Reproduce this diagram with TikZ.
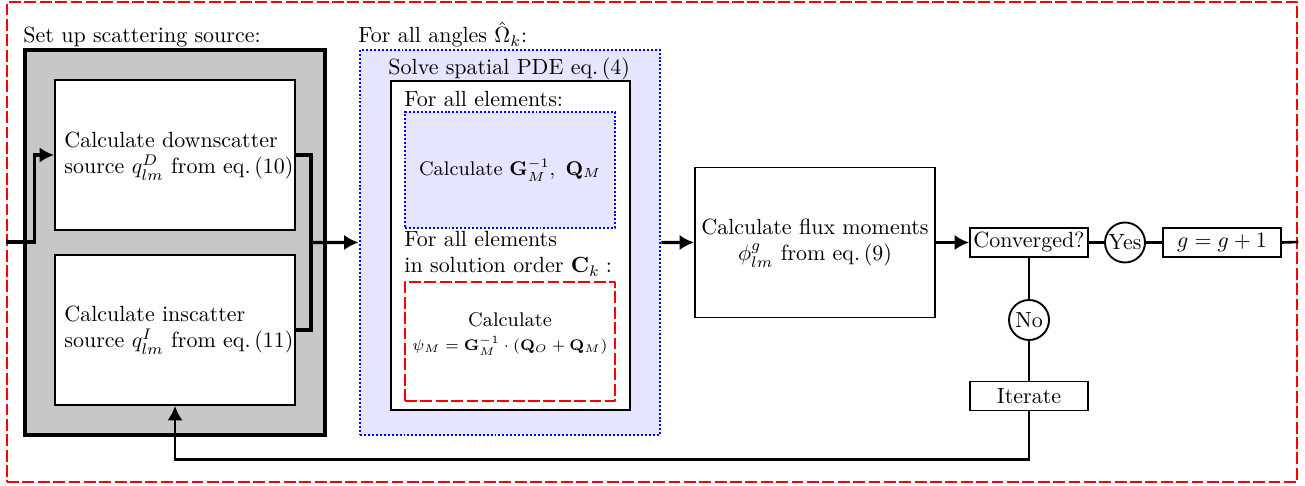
\documentclass[tikz,border=0pt]{standalone}
\usetikzlibrary{fit,arrows.meta}
\begin{document}
\begin{tikzpicture}[x=0.455pt,y=-0.455pt,
  box/.style={draw, line width=0.85pt, fill=white, inner sep=0pt},
  smallbox/.style={draw, line width=0.85pt, fill=white, minimum width=53.7pt, minimum height=13.2pt, inner sep=0.4pt},
  circ/.style={draw, circle, line width=0.85pt, fill=white, minimum size=18.2pt, inner sep=0.2pt},
  mainline/.style={line width=1.5pt},
  thinline/.style={line width=1.2pt},
  arr/.style={mainline, -{Latex[length=6.6pt,width=7pt]}},
  farr/.style={thinline, -{Latex[length=6.6pt,width=7pt]}},
  reddash/.style={draw=red, line width=1.3pt, dash pattern=on 5.4pt off 1.6pt, line join=round},
  bluedot/.style={draw=blue, line width=1.3pt, dash pattern=on 0.9pt off 0.9pt},
  lbl/.style={inner sep=0pt, anchor=base west},
  txt/.style={inner sep=0pt, align=left, anchor=west},
  ctxt/.style={inner sep=0pt, align=center}
]
\useasboundingbox (0,0) rectangle (1305,486);
% outer frame
\node[reddash, fit={(7,2)(1297,482)}, inner sep=0pt] (outer) {};

% scattering source block
\node[lbl] (scatlbl) at (23,43) {Set up scattering source:};
\node[fit={(25,50)(325,435)}, inner sep=0pt, draw, line width=1.5pt, fill=black!22] (scat) {};
\node[box, fit={(55,80)(295,230)}] (down) {};
\node[txt] (downtxt) at (64,156) {Calculate downscatter\\source $q_{lm}^{D}$ from eq.\,(10)};
\node[box, fit={(55,255)(295,405)}] (insc) {};
\node[txt] (insctxt) at (64,330) {Calculate inscatter\\source $q_{lm}^{I}$ from eq.\,(11)};

% angles block
\node[lbl] (anglbl) at (358,43) {For all angles $\hat{\Omega}_k$:};
\node[bluedot, fill=blue!10, fit={(360,50)(660,435)}, inner sep=0pt] (ang) {};
\node[lbl] (pdelbl) at (388,75) {Solve spatial PDE eq.\,(4)};
\node[box, fit={(391,81)(630,410)}] (pde) {};
\node[lbl] (elemlbl) at (404,107) {For all elements:};
\node[bluedot, fill=blue!10, fit={(405,112)(615,228)}, inner sep=0pt] (gm) {};
\node[ctxt, font=\small] (gmtxt) at (510,170) {Calculate $\mathbf{G}_M^{-1},\ \mathbf{Q}_M$};
\node[lbl, align=left] (ordlbl) at (404,273) {For all elements\\in solution order $\mathbf{C}_k:$};
\node[reddash, fill=white, fit={(405,282)(615,401)}, inner sep=0pt] (psi) {};
\node[ctxt, font=\small] (psitxt) at (510,334) {Calculate\\{\fontsize{7.4}{9}\selectfont$\psi_M=\mathbf{G}_M^{-1}\cdot(\mathbf{Q}_O+\mathbf{Q}_M)$}};

% flux block
\node[box, fit={(695,167.5)(935,317.5)}] (flux) {};
\node[ctxt] (fluxtxt) at (815,243) {Calculate flux moments\\$\phi_{lm}^{g}$ from eq.\,(9)};

% convergence
\node[smallbox] (conv) at (1029,242.5) {Converged?};
\node[circ] (yes) at (1125,242.5) {Yes};
\node[smallbox] (gbox) at (1222,242.5) {$g=g+1$};
\node[circ] (no) at (1029,320) {No};
\node[smallbox] (iter) at (1029,396) {Iterate};

% connectors
\coordinate (j) at (310,242.5);
\draw[arr] (outer.west) -- ++(29,0) |- (down.west);
\draw[mainline] (down.east) -- ++(15,0) |- (insc.east);
\draw[arr] (j) -- (ang.west);
\draw[arr] (ang.east) -- (flux.west);
\draw[arr] (flux.east) -- (conv.west);
\draw[thinline] (conv.east) -- (yes.west);
\draw[thinline] (yes.east) -- (gbox.west);
\draw[thinline] (gbox.east) -- (outer.east);
\draw[thinline] (conv.south) -- (no.north);
\draw[thinline] (no.south) -- (iter.north);
\draw[farr] (iter.south) -- ++(0,48) -| (insc.south);
\end{tikzpicture}
\end{document}
